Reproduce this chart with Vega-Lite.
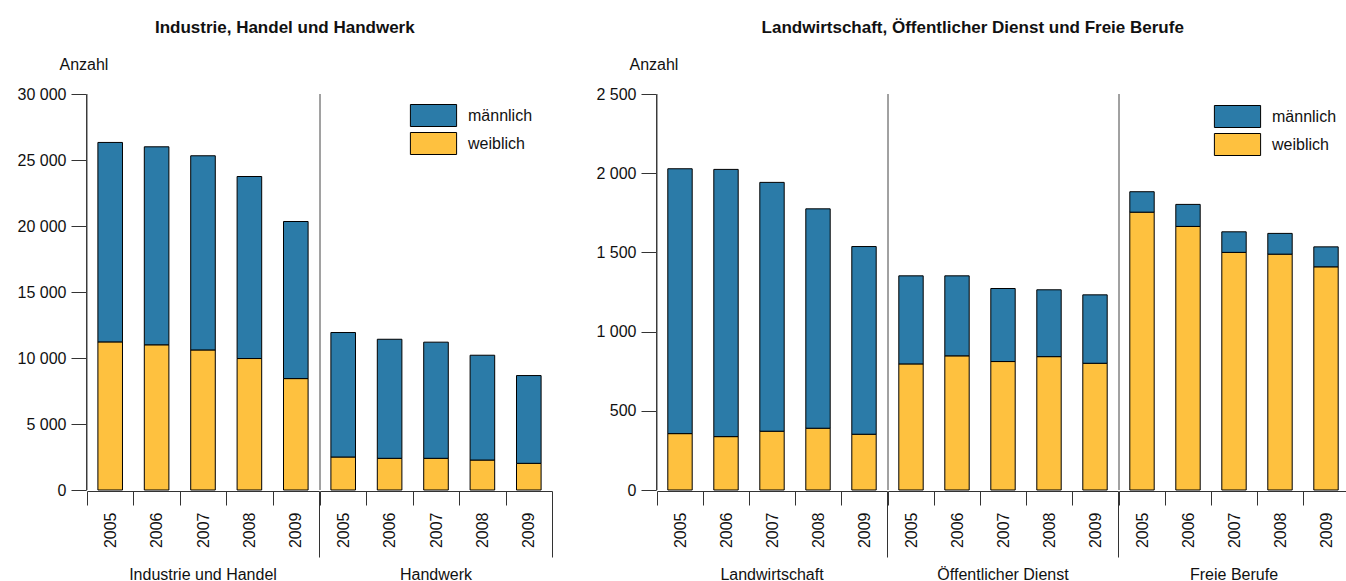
{
  "$schema": "https://vega.github.io/schema/vega-lite/v6.json",
  "background": "white",
  "padding": {"left": 17, "top": 19, "right": 0, "bottom": 0},
  "config": {
    "font": "Liberation Sans",
    "view": {"stroke": null},
    "facet": {"spacing": 0},
    "concat": {"spacing": 42},
    "axis": {"labelFont": "Liberation Sans", "labelFontSize": 16, "labelColor": "#111", "domainColor": "#333", "tickColor": "#333", "grid": false, "titleFont": "Liberation Sans"},
    "header": {"labelFont": "Liberation Sans"},
    "legend": {"title": null, "orient": "none", "symbolType": "M-2.1,-1H2.1V1H-2.1Z", "symbolSize": 484, "symbolStrokeColor": "black", "symbolStrokeWidth": 1, "labelFontSize": 16, "labelFont": "Liberation Sans", "labelColor": "#111", "labelOffset": 23, "rowPadding": 1},
    "title": {"font": "Liberation Sans", "fontSize": 17, "fontWeight": "bold", "color": "#111", "offset": 19}
  },
  "datasets": {
    "links": [
      {"Bereich": "Industrie und Handel", "Jahr": 2005, "Geschlecht": "weiblich", "Anzahl": 11220},
      {"Bereich": "Industrie und Handel", "Jahr": 2005, "Geschlecht": "männlich", "Anzahl": 15110},
      {"Bereich": "Industrie und Handel", "Jahr": 2006, "Geschlecht": "weiblich", "Anzahl": 11000},
      {"Bereich": "Industrie und Handel", "Jahr": 2006, "Geschlecht": "männlich", "Anzahl": 15000},
      {"Bereich": "Industrie und Handel", "Jahr": 2007, "Geschlecht": "weiblich", "Anzahl": 10610},
      {"Bereich": "Industrie und Handel", "Jahr": 2007, "Geschlecht": "männlich", "Anzahl": 14710},
      {"Bereich": "Industrie und Handel", "Jahr": 2008, "Geschlecht": "weiblich", "Anzahl": 9960},
      {"Bereich": "Industrie und Handel", "Jahr": 2008, "Geschlecht": "männlich", "Anzahl": 13790},
      {"Bereich": "Industrie und Handel", "Jahr": 2009, "Geschlecht": "weiblich", "Anzahl": 8440},
      {"Bereich": "Industrie und Handel", "Jahr": 2009, "Geschlecht": "männlich", "Anzahl": 11900},
      {"Bereich": "Handwerk", "Jahr": 2005, "Geschlecht": "weiblich", "Anzahl": 2500},
      {"Bereich": "Handwerk", "Jahr": 2005, "Geschlecht": "männlich", "Anzahl": 9430},
      {"Bereich": "Handwerk", "Jahr": 2006, "Geschlecht": "weiblich", "Anzahl": 2400},
      {"Bereich": "Handwerk", "Jahr": 2006, "Geschlecht": "männlich", "Anzahl": 9020},
      {"Bereich": "Handwerk", "Jahr": 2007, "Geschlecht": "weiblich", "Anzahl": 2400},
      {"Bereich": "Handwerk", "Jahr": 2007, "Geschlecht": "männlich", "Anzahl": 8800},
      {"Bereich": "Handwerk", "Jahr": 2008, "Geschlecht": "weiblich", "Anzahl": 2270},
      {"Bereich": "Handwerk", "Jahr": 2008, "Geschlecht": "männlich", "Anzahl": 7940},
      {"Bereich": "Handwerk", "Jahr": 2009, "Geschlecht": "weiblich", "Anzahl": 2020},
      {"Bereich": "Handwerk", "Jahr": 2009, "Geschlecht": "männlich", "Anzahl": 6650}
    ],
    "rechts": [
      {"Bereich": "Landwirtschaft", "Jahr": 2005, "Geschlecht": "weiblich", "Anzahl": 356},
      {"Bereich": "Landwirtschaft", "Jahr": 2005, "Geschlecht": "männlich", "Anzahl": 1672},
      {"Bereich": "Landwirtschaft", "Jahr": 2006, "Geschlecht": "weiblich", "Anzahl": 337},
      {"Bereich": "Landwirtschaft", "Jahr": 2006, "Geschlecht": "männlich", "Anzahl": 1687},
      {"Bereich": "Landwirtschaft", "Jahr": 2007, "Geschlecht": "weiblich", "Anzahl": 371},
      {"Bereich": "Landwirtschaft", "Jahr": 2007, "Geschlecht": "männlich", "Anzahl": 1571},
      {"Bereich": "Landwirtschaft", "Jahr": 2008, "Geschlecht": "weiblich", "Anzahl": 390},
      {"Bereich": "Landwirtschaft", "Jahr": 2008, "Geschlecht": "männlich", "Anzahl": 1385},
      {"Bereich": "Landwirtschaft", "Jahr": 2009, "Geschlecht": "weiblich", "Anzahl": 352},
      {"Bereich": "Landwirtschaft", "Jahr": 2009, "Geschlecht": "männlich", "Anzahl": 1185},
      {"Bereich": "Öffentlicher Dienst", "Jahr": 2005, "Geschlecht": "weiblich", "Anzahl": 796},
      {"Bereich": "Öffentlicher Dienst", "Jahr": 2005, "Geschlecht": "männlich", "Anzahl": 556},
      {"Bereich": "Öffentlicher Dienst", "Jahr": 2006, "Geschlecht": "weiblich", "Anzahl": 847},
      {"Bereich": "Öffentlicher Dienst", "Jahr": 2006, "Geschlecht": "männlich", "Anzahl": 505},
      {"Bereich": "Öffentlicher Dienst", "Jahr": 2007, "Geschlecht": "weiblich", "Anzahl": 811},
      {"Bereich": "Öffentlicher Dienst", "Jahr": 2007, "Geschlecht": "männlich", "Anzahl": 461},
      {"Bereich": "Öffentlicher Dienst", "Jahr": 2008, "Geschlecht": "weiblich", "Anzahl": 842},
      {"Bereich": "Öffentlicher Dienst", "Jahr": 2008, "Geschlecht": "männlich", "Anzahl": 422},
      {"Bereich": "Öffentlicher Dienst", "Jahr": 2009, "Geschlecht": "weiblich", "Anzahl": 800},
      {"Bereich": "Öffentlicher Dienst", "Jahr": 2009, "Geschlecht": "männlich", "Anzahl": 432},
      {"Bereich": "Freie Berufe", "Jahr": 2005, "Geschlecht": "weiblich", "Anzahl": 1754},
      {"Bereich": "Freie Berufe", "Jahr": 2005, "Geschlecht": "männlich", "Anzahl": 129},
      {"Bereich": "Freie Berufe", "Jahr": 2006, "Geschlecht": "weiblich", "Anzahl": 1664},
      {"Bereich": "Freie Berufe", "Jahr": 2006, "Geschlecht": "männlich", "Anzahl": 139},
      {"Bereich": "Freie Berufe", "Jahr": 2007, "Geschlecht": "weiblich", "Anzahl": 1500},
      {"Bereich": "Freie Berufe", "Jahr": 2007, "Geschlecht": "männlich", "Anzahl": 130},
      {"Bereich": "Freie Berufe", "Jahr": 2008, "Geschlecht": "weiblich", "Anzahl": 1489},
      {"Bereich": "Freie Berufe", "Jahr": 2008, "Geschlecht": "männlich", "Anzahl": 131},
      {"Bereich": "Freie Berufe", "Jahr": 2009, "Geschlecht": "weiblich", "Anzahl": 1409},
      {"Bereich": "Freie Berufe", "Jahr": 2009, "Geschlecht": "männlich", "Anzahl": 126}
    ]
  },
  "hconcat": [
    {
      "data": {"name": "links"},
      "title": {"text": "Industrie, Handel und Handwerk", "anchor": "middle"},
      "facet": {"column": {"field": "Bereich", "type": "nominal", "sort": ["Industrie und Handel", "Handwerk"], "header": {"title": null, "labelOrient": "bottom", "labelFontSize": 16, "labelColor": "#111", "labelPadding": 9}}},
      "spec": {
        "width": 232,
        "height": 396,
        "layer": [
          {
            "mark": {"type": "bar", "width": {"band": 0.53}, "stroke": "black", "strokeWidth": 1},
            "encoding": {
              "x": {"field": "Jahr", "type": "ordinal", "scale": {"paddingInner": 0, "paddingOuter": 0}, "axis": {"title": null, "labelAngle": -90, "tickBand": "extent", "tickSize": {"condition": {"test": "datum.value == 2009", "value": 66}, "value": 14}, "labelPadding": {"condition": {"test": "datum.value == 2009", "value": -45}, "value": 7}}},
              "y": {"field": "Anzahl", "type": "quantitative", "stack": "zero", "scale": {"domain": [0, 30000]}, "axis": {"values": [0, 5000, 10000, 15000, 20000, 25000, 30000], "labelExpr": "replace(format(datum.value, ','), ',', ' ')", "tickSize": 15, "labelPadding": 5, "title": "Anzahl", "titleAngle": 0, "titleAlign": "left", "titleBaseline": "middle", "titleX": -27, "titleY": -30, "titleFontSize": 16, "titleFontWeight": "normal", "titleColor": "#111"}},
              "color": {"field": "Geschlecht", "type": "nominal", "scale": {"domain": ["männlich", "weiblich"], "range": ["#2b7ba8", "#fec13f"]}, "legend": {"legendX": 335, "legendY": 10}},
              "order": {"field": "Geschlecht", "sort": "descending"}
            }
          },
          {
            "transform": [{"filter": "datum.Jahr == 2005 && datum.Geschlecht == 'weiblich'"}],
            "mark": {"type": "rule", "color": "#444", "strokeWidth": 1},
            "encoding": {"x": {"field": "Jahr", "type": "ordinal", "bandPosition": 0}}
          }
        ]
      }
    },
    {
      "data": {"name": "rechts"},
      "title": {"text": "Landwirtschaft, Öffentlicher Dienst und Freie Berufe", "anchor": "middle"},
      "facet": {"column": {"field": "Bereich", "type": "nominal", "sort": ["Landwirtschaft", "Öffentlicher Dienst", "Freie Berufe"], "header": {"title": null, "labelOrient": "bottom", "labelFontSize": 16, "labelColor": "#111", "labelPadding": 9}}},
      "spec": {
        "width": 230,
        "height": 396,
        "layer": [
          {
            "mark": {"type": "bar", "width": {"band": 0.53}, "stroke": "black", "strokeWidth": 1},
            "encoding": {
              "x": {"field": "Jahr", "type": "ordinal", "scale": {"paddingInner": 0, "paddingOuter": 0}, "axis": {"title": null, "labelAngle": -90, "tickBand": "extent", "tickSize": {"condition": {"test": "datum.value == 2009", "value": 66}, "value": 14}, "labelPadding": {"condition": {"test": "datum.value == 2009", "value": -45}, "value": 7}}},
              "y": {"field": "Anzahl", "type": "quantitative", "stack": "zero", "scale": {"domain": [0, 2500]}, "axis": {"values": [0, 500, 1000, 1500, 2000, 2500], "labelExpr": "replace(format(datum.value, ','), ',', ' ')", "tickSize": 15, "labelPadding": 5, "title": "Anzahl", "titleAngle": 0, "titleAlign": "left", "titleBaseline": "middle", "titleX": -27, "titleY": -30, "titleFontSize": 16, "titleFontWeight": "normal", "titleColor": "#111"}},
              "color": {"field": "Geschlecht", "type": "nominal", "scale": {"domain": ["männlich", "weiblich"], "range": ["#2b7ba8", "#fec13f"]}, "legend": {"legendX": 569, "legendY": 11}},
              "order": {"field": "Geschlecht", "sort": "descending"}
            }
          },
          {
            "transform": [{"filter": "datum.Jahr == 2005 && datum.Geschlecht == 'weiblich'"}],
            "mark": {"type": "rule", "color": "#444", "strokeWidth": 1},
            "encoding": {"x": {"field": "Jahr", "type": "ordinal", "bandPosition": 0}}
          }
        ]
      }
    }
  ],
  "resolve": {"scale": {"color": "independent"}, "legend": {"color": "independent"}}
}
